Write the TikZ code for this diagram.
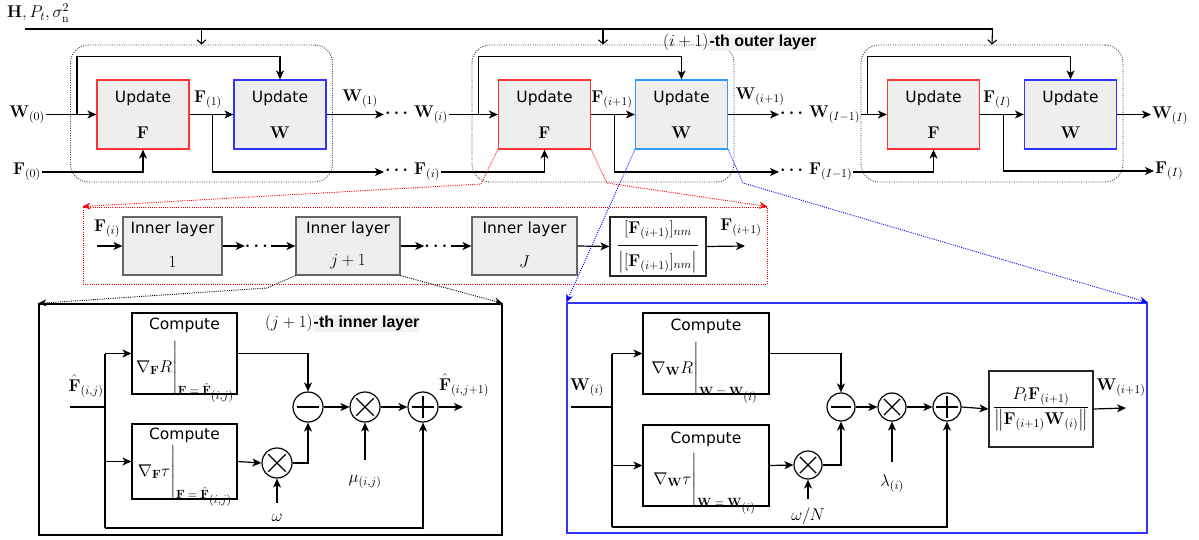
\documentclass[tikz,border=0pt]{standalone}
\usepackage{fix-cm}
\usepackage{amsmath}
\usepackage[no-math]{fontspec}
\newfontfamily\dvsans{DejaVu Sans}
\newfontfamily\lisans{Liberation Sans}
\usetikzlibrary{arrows.meta,calc}
\definecolor{boxgrey}{HTML}{EEEEEE}
\definecolor{tagbg}{HTML}{F3F3F3}
\definecolor{fred}{HTML}{FF3333}
\definecolor{wblue}{HTML}{3333FF}
\definecolor{wblue2}{HTML}{3399FF}
\definecolor{ingrey}{HTML}{666666}
\newcommand\dgmsize{\fontsize{17}{20.4}\selectfont}
\newcommand\txtsize{\fontsize{15.5}{18.6}\selectfont}
\newcommand\lyrtitle[1]{{\setlength\fboxsep{1pt}\colorbox{tagbg}{\lisans\bfseries\fontsize{16}{19}\selectfont #1}}}
\newcommand\bdots{\boldsymbol{\cdots}}
% evaluation bar with a tall vertical stroke
\newcommand\evalat[2]{\left.#1\rule[-16pt]{0pt}{44pt}\right|_{#2}}
\tikzset{
  every node/.style={font=\dgmsize,inner sep=1pt},
  ln/.style={line width=1.2pt},
  arr/.style={line width=1.2pt,-{Stealth[length=9pt,width=8pt,inset=2.5pt]}},
  tarr/.style={line width=1.1pt,-{Straight Barb[length=4pt,width=9pt]}},
  outerbox/.style={draw=black!75,line width=0.9pt,dash pattern=on 1pt off 1.4pt,
    rounded corners=18pt,minimum width=262pt,minimum height=137pt,inner sep=0pt},
  upd/.style={fill=boxgrey,line width=1.2pt,minimum width=92pt,minimum height=69pt,inner sep=0pt},
  sans/.style={font=\dvsans\txtsize},
  formula/.style={anchor=base,inner sep=0pt},
  inbox/.style={draw=ingrey,fill=boxgrey,line width=1.2pt,minimum height=58pt,inner sep=0pt},
  cbox/.style={draw=black,fill=white,line width=1.2pt,inner sep=0pt},
  fracbox/.style={draw=black!85,fill=white,line width=1.2pt,inner sep=0pt},
  zoomred/.style={draw=red,line width=0.9pt,dash pattern=on 1pt off 1.2pt,-{Stealth[length=8pt,width=7pt]}},
  zoomblue/.style={draw=blue,line width=0.9pt,dash pattern=on 1pt off 1.2pt,-{Stealth[length=8pt,width=7pt]}},
  zoomblack/.style={draw=black,line width=0.9pt,dash pattern=on 1pt off 1.2pt,-{Stealth[length=8pt,width=7pt]}},
  op/.style={circle,draw,fill=white,line width=1.2pt,inner sep=0pt,minimum size=#1},
  minusop/.style={op=#1,path picture={\draw[line width=1.2pt]
      ([xshift=-0.37*#1]path picture bounding box.center)--([xshift=0.37*#1]path picture bounding box.center);}},
  plusop/.style={op=#1,path picture={\draw[line width=1.2pt]
      ([xshift=-0.38*#1]path picture bounding box.center)--([xshift=0.38*#1]path picture bounding box.center)
      ([yshift=-0.38*#1]path picture bounding box.center)--([yshift=0.38*#1]path picture bounding box.center);}},
  timesop/.style={op=#1,path picture={\draw[line width=1.2pt]
      ([shift={(-0.29*#1,-0.29*#1)}]path picture bounding box.center)--([shift={(0.29*#1,0.29*#1)}]path picture bounding box.center)
      ([shift={(-0.29*#1,0.29*#1)}]path picture bounding box.center)--([shift={(0.29*#1,-0.29*#1)}]path picture bounding box.center);}},
}
\begin{document}
\begin{tikzpicture}[x=1pt,y=-1pt]
\useasboundingbox (0,0) rectangle (1199,540);

% ---------------- outer layers ----------------
\node[anchor=west] (hdr) at (6,13) {$\mathbf H, P_t, \sigma_{\mathrm n}^2$};

\foreach \n/\dx/\wc in {1/0/wblue,2/401.5/wblue2,3/790.5/wblue}{
  \node[outerbox] (o\n) at (201.5+\dx,113.5) {};
  \node[upd,draw=fred] (F\n) at (143+\dx,114.5) {};
  \node[upd,draw=\wc] (W\n) at (280+\dx,114.5) {};
  \node[sans] (Fu\n) at (143+\dx,98) {Update};
  \node (Fs\n) at (143+\dx,132.5) {$\mathbf F$};
  \node[sans] (Wu\n) at (280+\dx,98) {Update};
  \node (Ws\n) at (280+\dx,132.5) {$\mathbf W$};
  \coordinate (lp\n) at (77+\dx,114.5);
  \coordinate (fb\n) at ($(F\n.east)+(23,0)$);
  \draw[arr] (lp\n) |- ($(W\n.north)+(0,-23)$) -- (W\n.north);
  \draw[arr] (F\n.east) -- (W\n.west);
}

% common input bus
\coordinate (hl) at (25,29);
\coordinate (hr) at (992.5,29);
\draw[ln] (hl) -- (hr);
\draw[tarr] (hr) -- (o3.north);
\draw[tarr] (hl -| o1.north) -- (o1.north);
\draw[tarr] (hl -| o2.north) -- (o2.north);

\node[anchor=west,inner sep=0pt] (otl) at (663,42) {$(i+1)$\lyrtitle{-th outer layer}};

% signals between the layers
\node[anchor=east] (w0) at (46,114.5) {$\mathbf W_{(0)}$};
\node[anchor=east] (f0) at (42,172) {$\mathbf F_{(0)}$};
\node[anchor=west] (wi) at (384,114.5) {$\bdots\,\mathbf W_{(i)}$};
\node[anchor=west] (fi) at (384,172) {$\bdots\,\mathbf F_{(i)}$};
\node[anchor=west] (wI1) at (779,114.5) {$\bdots\,\mathbf W_{(I-1)}$};
\node[anchor=west] (fI1) at (779,172) {$\bdots\,\mathbf F_{(I-1)}$};
\node[anchor=west] (wI) at (1151,116) {$\mathbf W_{(I)}$};
\node[anchor=west] (fI) at (1154,171) {$\mathbf F_{(I)}$};

\node (f1) at (208,100) {$\mathbf F_{(1)}$};
\node (w1) at (360,99) {$\mathbf W_{(1)}$};
\node (fi1) at (612,100) {$\mathbf F_{(i+1)}$};
\node (wi1) at (760,97) {$\mathbf W_{(i+1)}$};
\node (fII) at (997,100) {$\mathbf F_{(I)}$};

\draw[arr] (w0.east) -- (F1.west);
\draw[arr] (f0.east) -| (F1.south);
\draw[arr] (W1.east) -- (wi.west);
\draw[arr] (fb1) |- (fi.west);
\draw[arr] (wi.east) -- (F2.west);
\draw[arr] (fi.east) -| (F2.south);
\draw[arr] (W2.east) -- (wI1.west);
\draw[arr] (fb2) |- (fI1.west);
\draw[arr] (wI1.east) -- (F3.west);
\draw[arr] (fI1.east) -| (F3.south);
\draw[arr] (W3.east) -- (W3.east -| wI.west);
\draw[arr] (fb3) |- (fI.west);

% ---------------- inner layers of the F update ----------------
\node[draw=red,line width=0.9pt,dash pattern=on 1pt off 1.2pt,minimum width=684pt,minimum height=77pt,inner sep=0pt] (inrow) at (425,245.5) {};

\node[inbox,minimum width=99pt] (L1) at (172.5,246) {};
\node[inbox,minimum width=104pt] (Lj) at (348,246) {};
\node[inbox,minimum width=105pt] (LJ) at (524.5,246) {};
\node[sans] (L1t) at (172.5,229) {Inner layer};
\node[sans] (Ljt) at (348,229) {Inner layer};
\node[sans] (LJt) at (524.5,229) {Inner layer};
\node (L1n) at (172.5,262) {$1$};
\node (Ljn) at (348,262) {$j+1$};
\node (LJn) at (524.5,262) {$J$};
\node[fracbox,minimum width=96pt,minimum height=59pt] (nrm) at (658,246.5)
  {$\genfrac{}{}{1.8pt}{0}{[\mathbf F_{(i+1)}]_{nm}}{\left|[\mathbf F_{(i+1)}]_{nm}\right|}$};

\node[anchor=base,inner sep=0pt] (dA) at (258,250.2) {$\bdots$};
\node[anchor=base,inner sep=0pt] (dB) at (437.5,250.2) {$\bdots$};

\coordinate (fin) at (97,246);
\coordinate (fout) at (745,246);
\node (fil) at (107,229) {$\mathbf F_{(i)}$};
\node (fol) at (741,228) {$\mathbf F_{(i+1)}$};

\draw[arr] (fin) -- (L1.west);
\draw[arr] (L1.east) -- (L1.east -| dA.west);
\draw[arr] (Lj.west -| dA.east) -- (Lj.west);
\draw[arr] (Lj.east) -- (Lj.east -| dB.west);
\draw[arr] (LJ.west -| dB.east) -- (LJ.west);
\draw[arr] (LJ.east) -- (nrm.west);
\draw[arr] (nrm.east) -- (fout);

% zoom guides
\coordinate (rb1) at (481,184);
\coordinate (rb2) at (607,183);
\draw[zoomred] (F2.south west) -- (rb1) -- (inrow.north west);
\draw[zoomred] (F2.south east) -- (rb2) -- (inrow.north east);

% ---------------- (j+1)-th inner layer ----------------
\node[draw=black,line width=1.3pt,minimum width=463pt,minimum height=231pt,inner sep=0pt] (BL) at (270.5,419.5) {};
\coordinate (kb1) at (267,288);
\draw[zoomblack] (Lj.south west) -- (kb1) -- (BL.north west);
\draw[zoomblack] (Lj.south east) -- (BL.north east);

\node[anchor=west,inner sep=0pt] (itl) at (265,323) {$(j+1)$\lyrtitle{-th inner layer}};

\node[cbox,minimum width=105pt,minimum height=81pt] (C1) at (184.5,353.5) {};
\node[cbox,minimum width=105pt,minimum height=75pt] (C2) at (184.5,461.5) {};
\node[sans] (C1t) at (184.5,325) {Compute};
\node[sans] (C2t) at (184.5,435) {Compute};
\node[formula] (C1f) at (184.5,372) {$\evalat{\nabla_{\mathbf F}R}{\mathbf F\;=\;\hat{\mathbf F}_{\scriptstyle (i,j)}}$};
\node[formula] (C2f) at (184.5,476) {$\evalat{\nabla_{\mathbf F}\tau}{\mathbf F\;=\;\hat{\mathbf F}_{\scriptstyle (i,j)}}$};

\node[minusop=30pt] (m1) at (308,407) {};
\node[timesop=30pt] (t1) at (365,407) {};
\node[plusop=30pt] (p1) at (423,407) {};
\node[timesop=30pt] (t2) at (277,463) {};

\coordinate (bin1) at (70,407);
\coordinate (bj1) at (105,407);
\coordinate (bjb1) at (105,528);
\coordinate (bo1) at (463,407);
\coordinate (om1) at (277,503);
\coordinate (mu1) at (365,460);

\node (bil) at (86,386) {$\hat{\mathbf F}_{(i,j)}$};
\node (bol) at (464,385) {$\hat{\mathbf F}_{(i,j+1)}$};
\node (oml) at (277,518) {$\omega$};
\node (mul) at (365,482) {$\mu_{(i,j)}$};

\draw[ln] (bin1) -- (bj1);
\draw[ln] (C1.west -| bj1) -- (bjb1);
\draw[arr] (C1.west -| bj1) -- (C1.west);
\draw[arr] (C2.west -| bj1) -- (C2.west);
\draw[arr] (bjb1) -| (p1.south);
\draw[arr] (C1.east) -| (m1.north);
\draw[arr] (C2.east) -- (t2.west);
\draw[arr] (t2.east) -| (m1.south);
\draw[arr] (m1.east) -- (t1.west);
\draw[arr] (t1.east) -- (p1.west);
\draw[arr] (p1.east) -- (bo1);
\draw[arr] (om1) -- (t2.south);
\draw[arr] (mu1) -- (t1.south);

% ---------------- W update ----------------
\node[draw=wblue,line width=1.3pt,minimum width=580pt,minimum height=230pt,inner sep=0pt] (BR) at (857,418) {};
\coordinate (bb2) at (743,183);
\draw[zoomblue] (W2.south west) -- (BR.north west);
\draw[zoomblue] (W2.south east) -- (bb2) -- (BR.north east);

\node[cbox,minimum width=126pt,minimum height=81pt] (C3) at (706,353.5) {};
\node[cbox,minimum width=126pt,minimum height=81pt] (C4) at (706,465.5) {};
\node[sans] (C3t) at (706,326) {Compute};
\node[sans] (C4t) at (706,439) {Compute};
\node[formula] (C3f) at (704,373) {$\evalat{\nabla_{\mathbf W}R}{\mathbf W\;=\;\mathbf W_{\scriptstyle (i)}}$};
\node[formula] (C4f) at (704,484) {$\evalat{\nabla_{\mathbf W}\tau}{\mathbf W\;=\;\mathbf W_{\scriptstyle (i)}}$};

\node[minusop=28pt] (m2) at (841,407) {};
\node[timesop=28pt] (t3) at (892,407) {};
\node[plusop=28pt] (p2) at (947,407) {};
\node[timesop=28pt] (t4) at (808,465) {};
\node[fracbox,minimum width=104pt,minimum height=76pt] (prj) at (1041,409)
  {$\dfrac{P_t\mathbf F_{(i+1)}}{\left\|\mathbf F_{(i+1)}\mathbf W_{(i)}\right\|}$};

\coordinate (bin2) at (571,407);
\coordinate (bj2) at (612,407);
\coordinate (bjb2) at (612,527);
\coordinate (bo2) at (1126,408);
\coordinate (om2) at (808,499);
\coordinate (la2) at (892,462);

\node (wil) at (587,388) {$\mathbf W_{(i)}$};
\node (wol) at (1121,388) {$\mathbf W_{(i+1)}$};
\node (omN) at (808,516) {$\omega/N$};
\node (lal) at (892,484) {$\lambda_{(i)}$};

\draw[line width=1.7pt] (bin2) -- (bj2);
\draw[ln] (C3.west -| bj2) -- (bjb2);
\draw[arr] (C3.west -| bj2) -- (C3.west);
\draw[arr] (C4.west -| bj2) -- (C4.west);
\draw[arr] (bjb2) -| (p2.south);
\draw[arr] (C3.east) -| (m2.north);
\draw[arr] (C4.east) -- (t4.west);
\draw[arr] (t4.east) -| (m2.south);
\draw[arr] (m2.east) -- (t3.west);
\draw[arr] (t3.east) -- (p2.west);
\draw[arr] (p2.east) -- (prj.west);
\draw[arr] (prj.east) -- (bo2);
\draw[arr] (om2) -- (t4.south);
\draw[arr] (la2) -- (t3.south);
\end{tikzpicture}
\end{document}
